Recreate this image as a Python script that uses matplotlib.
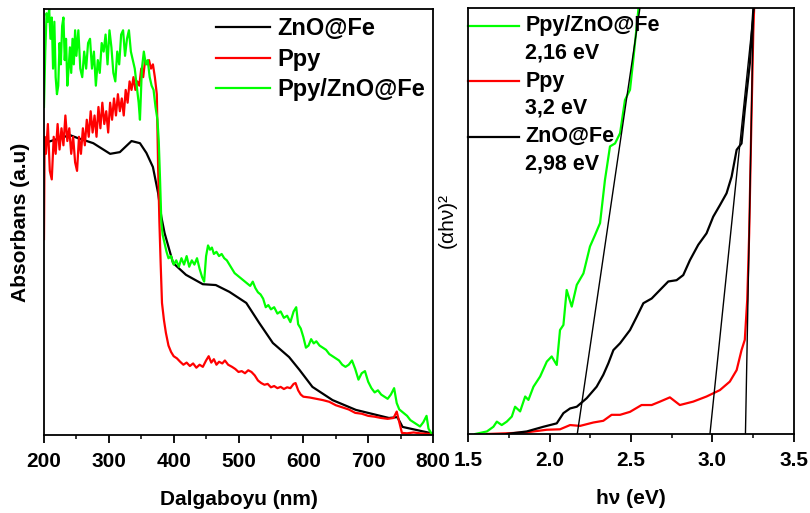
import matplotlib
matplotlib.use("Agg")
import matplotlib.pyplot as plt
from matplotlib.ticker import MultipleLocator

plt.rcParams["font.family"] = ["Liberation Sans", "DejaVu Sans"]
plt.rcParams["font.weight"] = "bold"

BLACK, RED, GREEN = "#000000", "#ff0000", "#00ff00"

# --- Sol panel: UV-Vis absorbans ---
zno_nm = [200, 240, 252, 276, 302, 317, 335, 348, 358, 368, 376, 381, 386, 399,
          419, 445, 465, 486, 512, 532, 553, 578, 594, 614, 645, 681, 732, 745,
          753, 795, 800]
zno_abs = [0.685, 0.704, 0.697, 0.685, 0.660, 0.664, 0.690, 0.685, 0.662, 0.629,
           0.568, 0.512, 0.474, 0.404, 0.376, 0.354, 0.352, 0.336, 0.310, 0.263,
           0.216, 0.183, 0.153, 0.113, 0.082, 0.059, 0.040, 0.042, 0.019, 0.005,
           0.002]

ppy_nm = [200, 201, 203, 206, 209, 212, 215, 218, 221, 224, 227, 230, 233, 236,
          239, 242, 245, 248, 251, 254, 257, 260, 263, 266, 269, 272, 275, 278,
          281, 284, 287, 290, 293, 296, 299, 302, 305, 308, 311, 314, 317, 320,
          323, 326, 329, 332, 335, 338, 341, 344, 347, 350, 353, 356, 359, 362,
          365, 368, 371, 374, 376, 378, 380, 382, 385, 388, 392, 396, 400, 405,
          410, 415, 420, 425, 430, 435, 440, 445, 450, 454, 458, 462, 466, 470,
          475, 479, 484, 490, 495, 500, 505, 510, 515, 520, 525, 530, 535, 540,
          545, 550, 555, 560, 565, 570, 575, 580, 585, 588, 592, 596, 600, 610,
          620, 630, 640, 650, 660, 670, 680, 690, 700, 710, 720, 730, 739, 744,
          748, 752, 760, 770, 780, 790, 800]
ppy_abs = [0.46, 0.70, 0.66, 0.73, 0.62, 0.60, 0.70, 0.66, 0.73, 0.67, 0.72, 0.68,
           0.75, 0.69, 0.72, 0.66, 0.70, 0.64, 0.62, 0.70, 0.66, 0.72, 0.68, 0.74,
           0.70, 0.76, 0.71, 0.75, 0.70, 0.77, 0.72, 0.78, 0.73, 0.76, 0.71, 0.78,
           0.74, 0.79, 0.75, 0.80, 0.76, 0.79, 0.75, 0.81, 0.78, 0.83, 0.81, 0.84,
           0.81, 0.83, 0.82, 0.86, 0.84, 0.88, 0.87, 0.88, 0.86, 0.87, 0.84, 0.80,
           0.63, 0.50, 0.40, 0.31, 0.27, 0.24, 0.21, 0.195, 0.185, 0.18, 0.172,
           0.165, 0.17, 0.162, 0.168, 0.158, 0.165, 0.16, 0.175, 0.185, 0.17,
           0.178, 0.165, 0.172, 0.168, 0.175, 0.165, 0.16, 0.155, 0.148, 0.15,
           0.145, 0.152, 0.148, 0.14, 0.128, 0.122, 0.118, 0.12, 0.112, 0.115,
           0.11, 0.113, 0.108, 0.112, 0.11, 0.12, 0.122, 0.105, 0.095, 0.09, 0.088,
           0.085, 0.082, 0.078, 0.07, 0.065, 0.06, 0.052, 0.05, 0.045, 0.043, 0.04,
           0.038, 0.04, 0.055, 0.03, 0.005, 0.004, 0.006, 0.004, 0.003, 0.002]

mix_nm = [200, 202, 204, 206, 208, 210, 212, 214, 216, 218, 220, 222, 224, 226,
          228, 230, 232, 234, 236, 238, 240, 242, 244, 246, 248, 250, 253, 256,
          259, 262, 265, 268, 271, 274, 277, 280, 283, 286, 289, 292, 295, 298,
          301, 304, 307, 310, 313, 316, 319, 322, 325, 328, 331, 334, 337, 340,
          343, 346, 348, 351, 354, 357, 360, 363, 366, 369, 372, 375, 377, 379,
          381, 383, 386, 389, 392, 396, 400, 404, 408, 412, 416, 420, 424, 428,
          432, 436, 440, 444, 447, 450, 453, 456, 459, 462, 466, 470, 474, 478,
          482, 486, 490, 494, 498, 502, 506, 510, 514, 518, 522, 526, 530, 534,
          538, 542, 546, 550, 555, 560, 565, 570, 575, 580, 585, 589, 592, 596,
          600, 604, 608, 612, 616, 620, 625, 630, 635, 640, 645, 650, 655, 660,
          665, 670, 675, 680, 685, 690, 695, 700, 705, 710, 715, 720, 725, 730,
          735, 740, 744, 748, 752, 756, 760, 765, 770, 775, 780, 785, 790, 793,
          797, 800]
mix_abs = [0.77, 0.90, 0.99, 0.97, 1.00, 0.93, 0.98, 0.86, 0.97, 0.84, 0.80, 0.82,
           0.92, 0.87, 0.96, 0.98, 0.88, 0.93, 0.82, 0.86, 0.91, 0.85, 0.93, 0.87,
           0.95, 0.89, 0.95, 0.86, 0.84, 0.90, 0.86, 0.92, 0.93, 0.86, 0.90, 0.82,
           0.88, 0.85, 0.92, 0.90, 0.94, 0.87, 0.95, 0.91, 0.85, 0.83, 0.90, 0.87,
           0.94, 0.95, 0.89, 0.93, 0.95, 0.90, 0.88, 0.86, 0.82, 0.78, 0.74, 0.86,
           0.90, 0.87, 0.88, 0.84, 0.82, 0.81, 0.77, 0.74, 0.69, 0.60, 0.50, 0.47,
           0.45, 0.43, 0.415, 0.42, 0.40, 0.41, 0.395, 0.415, 0.40, 0.42, 0.395,
           0.41, 0.40, 0.415, 0.39, 0.37, 0.36, 0.42, 0.445, 0.435, 0.44, 0.425,
           0.43, 0.42, 0.425, 0.415, 0.41, 0.40, 0.39, 0.38, 0.375, 0.37, 0.365,
           0.36, 0.355, 0.35, 0.36, 0.345, 0.335, 0.33, 0.32, 0.30, 0.305, 0.295,
           0.30, 0.285, 0.29, 0.275, 0.28, 0.265, 0.29, 0.30, 0.26, 0.25, 0.23,
           0.205, 0.21, 0.225, 0.215, 0.22, 0.21, 0.205, 0.20, 0.19, 0.185, 0.18,
           0.175, 0.165, 0.16, 0.165, 0.175, 0.155, 0.13, 0.145, 0.15, 0.125, 0.11,
           0.10, 0.105, 0.095, 0.09, 0.085, 0.095, 0.11, 0.075, 0.06, 0.055, 0.05,
           0.045, 0.035, 0.03, 0.025, 0.02, 0.03, 0.045, 0.015, 0.005, 0.003]

# --- Sag panel: Tauc grafigi ---
zno_ev = [1.737, 1.860, 1.962, 2.044, 2.085, 2.126, 2.167, 2.228, 2.289, 2.330,
          2.361, 2.392, 2.433, 2.494, 2.535, 2.576, 2.627, 2.678, 2.729, 2.780,
          2.821, 2.862, 2.913, 2.964, 3.005, 3.046, 3.087, 3.118, 3.149, 3.179,
          3.199, 3.230, 3.251, 3.260]
zno_tauc = [0.0, 0.006, 0.017, 0.025, 0.049, 0.060, 0.064, 0.084, 0.111, 0.139,
            0.166, 0.197, 0.213, 0.244, 0.275, 0.307, 0.318, 0.338, 0.358, 0.361,
            0.373, 0.408, 0.444, 0.471, 0.510, 0.537, 0.565, 0.604, 0.667, 0.682,
            0.761, 0.870, 0.995, 1.05]

ppy_ev = [1.615, 1.758, 1.860, 1.983, 2.064, 2.126, 2.187, 2.269, 2.330, 2.381,
          2.433, 2.494, 2.565, 2.627, 2.678, 2.739, 2.800, 2.882, 2.964, 3.046,
          3.107, 3.149, 3.179, 3.199, 3.214, 3.226, 3.238, 3.251, 3.261]
ppy_tauc = [0.0, 0.002, 0.004, 0.010, 0.011, 0.021, 0.019, 0.027, 0.031, 0.045,
            0.045, 0.052, 0.068, 0.068, 0.076, 0.086, 0.068, 0.076, 0.088, 0.103,
            0.123, 0.150, 0.197, 0.221, 0.315, 0.471, 0.706, 0.941, 1.05]

mix_ev = [1.543, 1.615, 1.655, 1.676, 1.706, 1.737, 1.768, 1.788, 1.819, 1.850,
          1.870, 1.901, 1.942, 1.983, 2.013, 2.044, 2.064, 2.085, 2.105, 2.136,
          2.167, 2.208, 2.248, 2.279, 2.310, 2.340, 2.371, 2.402, 2.433, 2.463,
          2.494, 2.514, 2.545, 2.555]
mix_tauc = [0.0, 0.006, 0.017, 0.029, 0.021, 0.029, 0.041, 0.064, 0.053, 0.088,
            0.080, 0.111, 0.135, 0.170, 0.182, 0.162, 0.244, 0.256, 0.338, 0.299,
            0.350, 0.377, 0.440, 0.467, 0.495, 0.596, 0.675, 0.682, 0.706, 0.784,
            0.808, 0.878, 0.995, 1.05]

# teget cizgileri: taban kesisimi -> ust kenar
tangent_x0 = [2.17, 2.985, 3.203]
tangent_x1 = [2.555, 3.255, 3.252]

fig = plt.figure(figsize=(8.1, 5.13), dpi=100)
ax1 = fig.add_axes([0.0543, 0.152, 0.4803, 0.8305])
ax2 = fig.add_axes([0.578, 0.154, 0.402, 0.8305])

ax1.plot(zno_nm, zno_abs, color=BLACK, lw=1.6, label="ZnO@Fe")
ax1.plot(ppy_nm, ppy_abs, color=RED, lw=1.6, label="Ppy")
ax1.plot(mix_nm, mix_abs, color=GREEN, lw=1.6, label="Ppy/ZnO@Fe")
ax1.set_xlim(200, 800)
ax1.set_ylim(0, 1.0)
ax1.xaxis.set_major_locator(MultipleLocator(100))
ax1.xaxis.set_minor_locator(MultipleLocator(50))
ax1.set_yticks([])
ax1.set_xlabel("Dalgaboyu (nm)", fontsize=15, fontweight="bold", labelpad=14)
ax1.set_ylabel("Absorbans (a.u)", fontsize=15, fontweight="bold", labelpad=10)
ax1.legend(loc="upper left", bbox_to_anchor=(0.42, 1.0), frameon=False,
           fontsize=17, handlelength=2.3, handletextpad=0.3, labelspacing=0.32,
           borderpad=0.35, borderaxespad=0)

ax2.plot(mix_ev, mix_tauc, color=GREEN, lw=1.6)
ax2.plot(ppy_ev, ppy_tauc, color=RED, lw=1.6)
ax2.plot(zno_ev, zno_tauc, color=BLACK, lw=1.6)
for x0, x1 in zip(tangent_x0, tangent_x1):
    ax2.plot([x0, x1], [0, 1.0], color=BLACK, lw=1.0)
ax2.set_xlim(1.5, 3.5)
ax2.set_ylim(0, 1.0)
ax2.xaxis.set_major_locator(MultipleLocator(0.5))
ax2.xaxis.set_minor_locator(MultipleLocator(0.25))
ax2.xaxis.set_major_formatter(matplotlib.ticker.FormatStrFormatter("%.1f"))
ax2.set_yticks([])
ax2.set_xlabel("hν (eV)", fontsize=15, fontweight="bold", labelpad=14)
ax2.set_ylabel("(αhν)²", fontsize=15, fontweight="normal", labelpad=8)

# sag panel lejanti (iki satirli etiketler)
entries = [(GREEN, "Ppy/ZnO@Fe", "2,16 eV"),
           (RED, "Ppy", "3,2 eV"),
           (BLACK, "ZnO@Fe", "2,98 eV")]
y = 0.958
for col, name, gap in entries:
    ax2.plot([0.0, 0.155], [y, y], color=col, lw=1.6, transform=ax2.transAxes,
             clip_on=False)
    ax2.text(0.175, y, name, transform=ax2.transAxes, ha="left", va="center",
             fontsize=15.5, fontweight="bold")
    ax2.text(0.175, y - 0.064, gap, transform=ax2.transAxes, ha="left",
             va="center", fontsize=15.5, fontweight="bold")
    y -= 0.13

for ax in (ax1, ax2):
    for s in ax.spines.values():
        s.set_linewidth(1.3)
    ax.tick_params(axis="x", which="major", direction="out", length=6, width=1.3,
                   labelsize=15, pad=6)
    ax.tick_params(axis="x", which="minor", direction="out", length=3, width=1.1)
    for lab in ax.get_xticklabels():
        lab.set_fontweight("bold")

fig.savefig("out.png", dpi=100, facecolor="white")
